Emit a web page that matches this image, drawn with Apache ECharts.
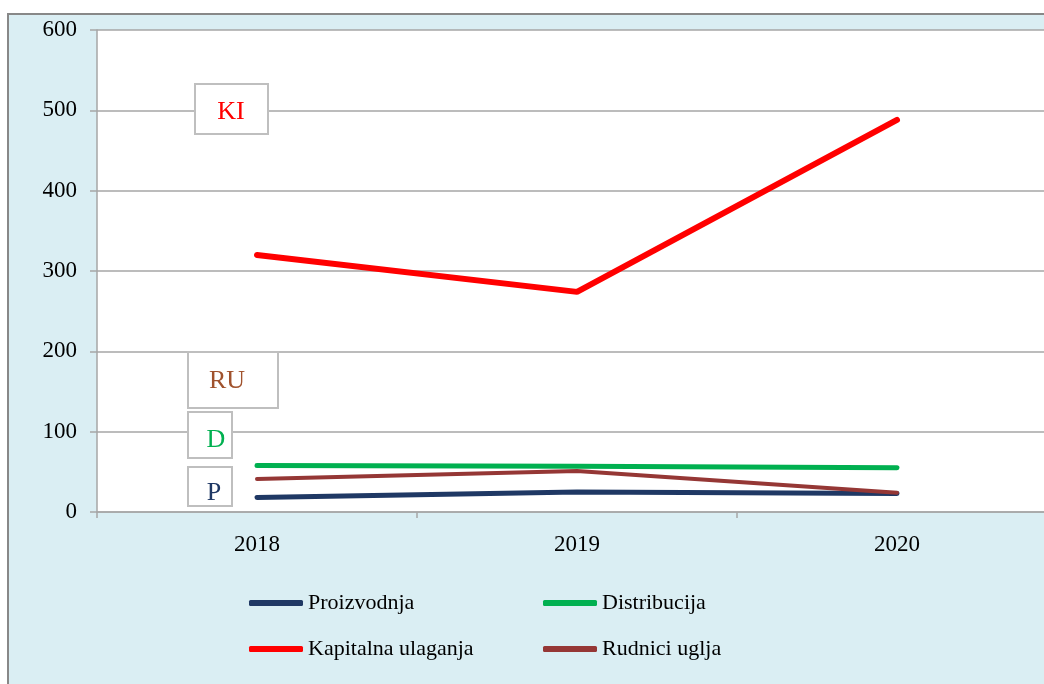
<!DOCTYPE html>
<html>
<head>
<meta charset="utf-8">
<script src="https://cdn.jsdelivr.net/npm/echarts@6/dist/echarts.min.js"></script>
<style>
    html, body { margin: 0; padding: 0; background: #fff; overflow: hidden; }
    #chart { width: 1070px; height: 684px; }
</style>
</head>
<body>
<div id="chart"></div>
<script>
var years = ['2018', '2019', '2020'];
var proizvodnja = [18, 25, 23];
var distribucija = [58, 57, 55];
var kapitalna = [320, 274, 488];
var rudnici = [41, 51, 24];

var serif = "'Liberation Serif', 'Times New Roman', serif";

lineTable('chart');

function labelBox(x, y, w, h, text, color, tx, ty) {
    return [
        {
            type: 'rect', z: 50,
            shape: { x: x, y: y, width: w, height: h },
            style: { fill: '#fff', stroke: '#BFBFBF', lineWidth: 2 }
        },
        {
            type: 'text', z: 51, x: tx, y: ty,
            style: { text: text, fill: color, font: '26px ' + serif, textAlign: 'center', textVerticalAlign: 'middle' }
        }
    ];
}

function lineTable(id) {
    var myChart = echarts.init(document.getElementById(id));

    var graphics = [
        {
            type: 'rect', z: -10, silent: true,
            shape: { x: 8, y: 14, width: 1100, height: 700 },
            style: { fill: '#DAEEF3', stroke: '#888', lineWidth: 2 }
        }
    ];
    graphics = graphics
        .concat(labelBox(195, 84, 73, 50, 'KI', '#FF0000', 231, 112))
        .concat(labelBox(188, 352, 90, 56, 'RU', '#A0522D', 227, 381))
        .concat(labelBox(188, 412, 44, 46, 'D', '#00B050', 216, 440))
        .concat(labelBox(188, 467, 44, 39, 'P', '#1F3864', 214, 493));

    var option = {
        backgroundColor: '#fff',
        animation: false,
        graphic: graphics,
        grid: {
            left: 97, top: 30, width: 960, height: 482,
            show: true, backgroundColor: '#fff', borderWidth: 0
        },
        legend: [
            {
                left: 249, top: 592, orient: 'vertical', itemGap: 24, padding: 0,
                icon: 'roundRect', itemWidth: 54, itemHeight: 6,
                textStyle: { fontFamily: serif, fontSize: 22, color: '#000' },
                data: ['Proizvodnja', 'Kapitalna ulaganja']
            },
            {
                left: 543, top: 592, orient: 'vertical', itemGap: 24, padding: 0,
                icon: 'roundRect', itemWidth: 54, itemHeight: 6,
                textStyle: { fontFamily: serif, fontSize: 22, color: '#000' },
                data: ['Distribucija', 'Rudnici uglja']
            }
        ],
        xAxis: {
            type: 'category',
            boundaryGap: true,
            data: years,
            axisLine: { lineStyle: { color: '#A6A6A6', width: 1.5 } },
            axisTick: { show: true, length: 6, lineStyle: { color: '#A6A6A6', width: 1.5 } },
            axisLabel: { color: '#000', fontFamily: serif, fontSize: 23, margin: 21 }
        },
        yAxis: {
            type: 'value',
            min: 0, max: 600, interval: 100,
            axisLine: { show: true, lineStyle: { color: '#A6A6A6', width: 1.5 } },
            axisTick: { show: true, length: 7, lineStyle: { color: '#A6A6A6', width: 1.5 } },
            axisLabel: { color: '#000', fontFamily: serif, fontSize: 23, margin: 20 },
            splitLine: { lineStyle: { color: '#A6A6A6', width: 1.5 } }
        },
        series: [
            {
                name: 'Proizvodnja', type: 'line', data: proizvodnja,
                showSymbol: false, color: '#1F3864',
                lineStyle: { width: 5, cap: 'round' }
            },
            {
                name: 'Distribucija', type: 'line', data: distribucija,
                showSymbol: false, color: '#00B050',
                lineStyle: { width: 5, cap: 'round' }
            },
            {
                name: 'Kapitalna ulaganja', type: 'line', data: kapitalna,
                showSymbol: false, color: '#FF0000',
                lineStyle: { width: 6, cap: 'round' }
            },
            {
                name: 'Rudnici uglja', type: 'line', data: rudnici,
                showSymbol: false, color: '#953735',
                lineStyle: { width: 4, cap: 'round' }
            }
        ]
    };

    myChart.setOption(option);
}
</script>
</body>
</html>
